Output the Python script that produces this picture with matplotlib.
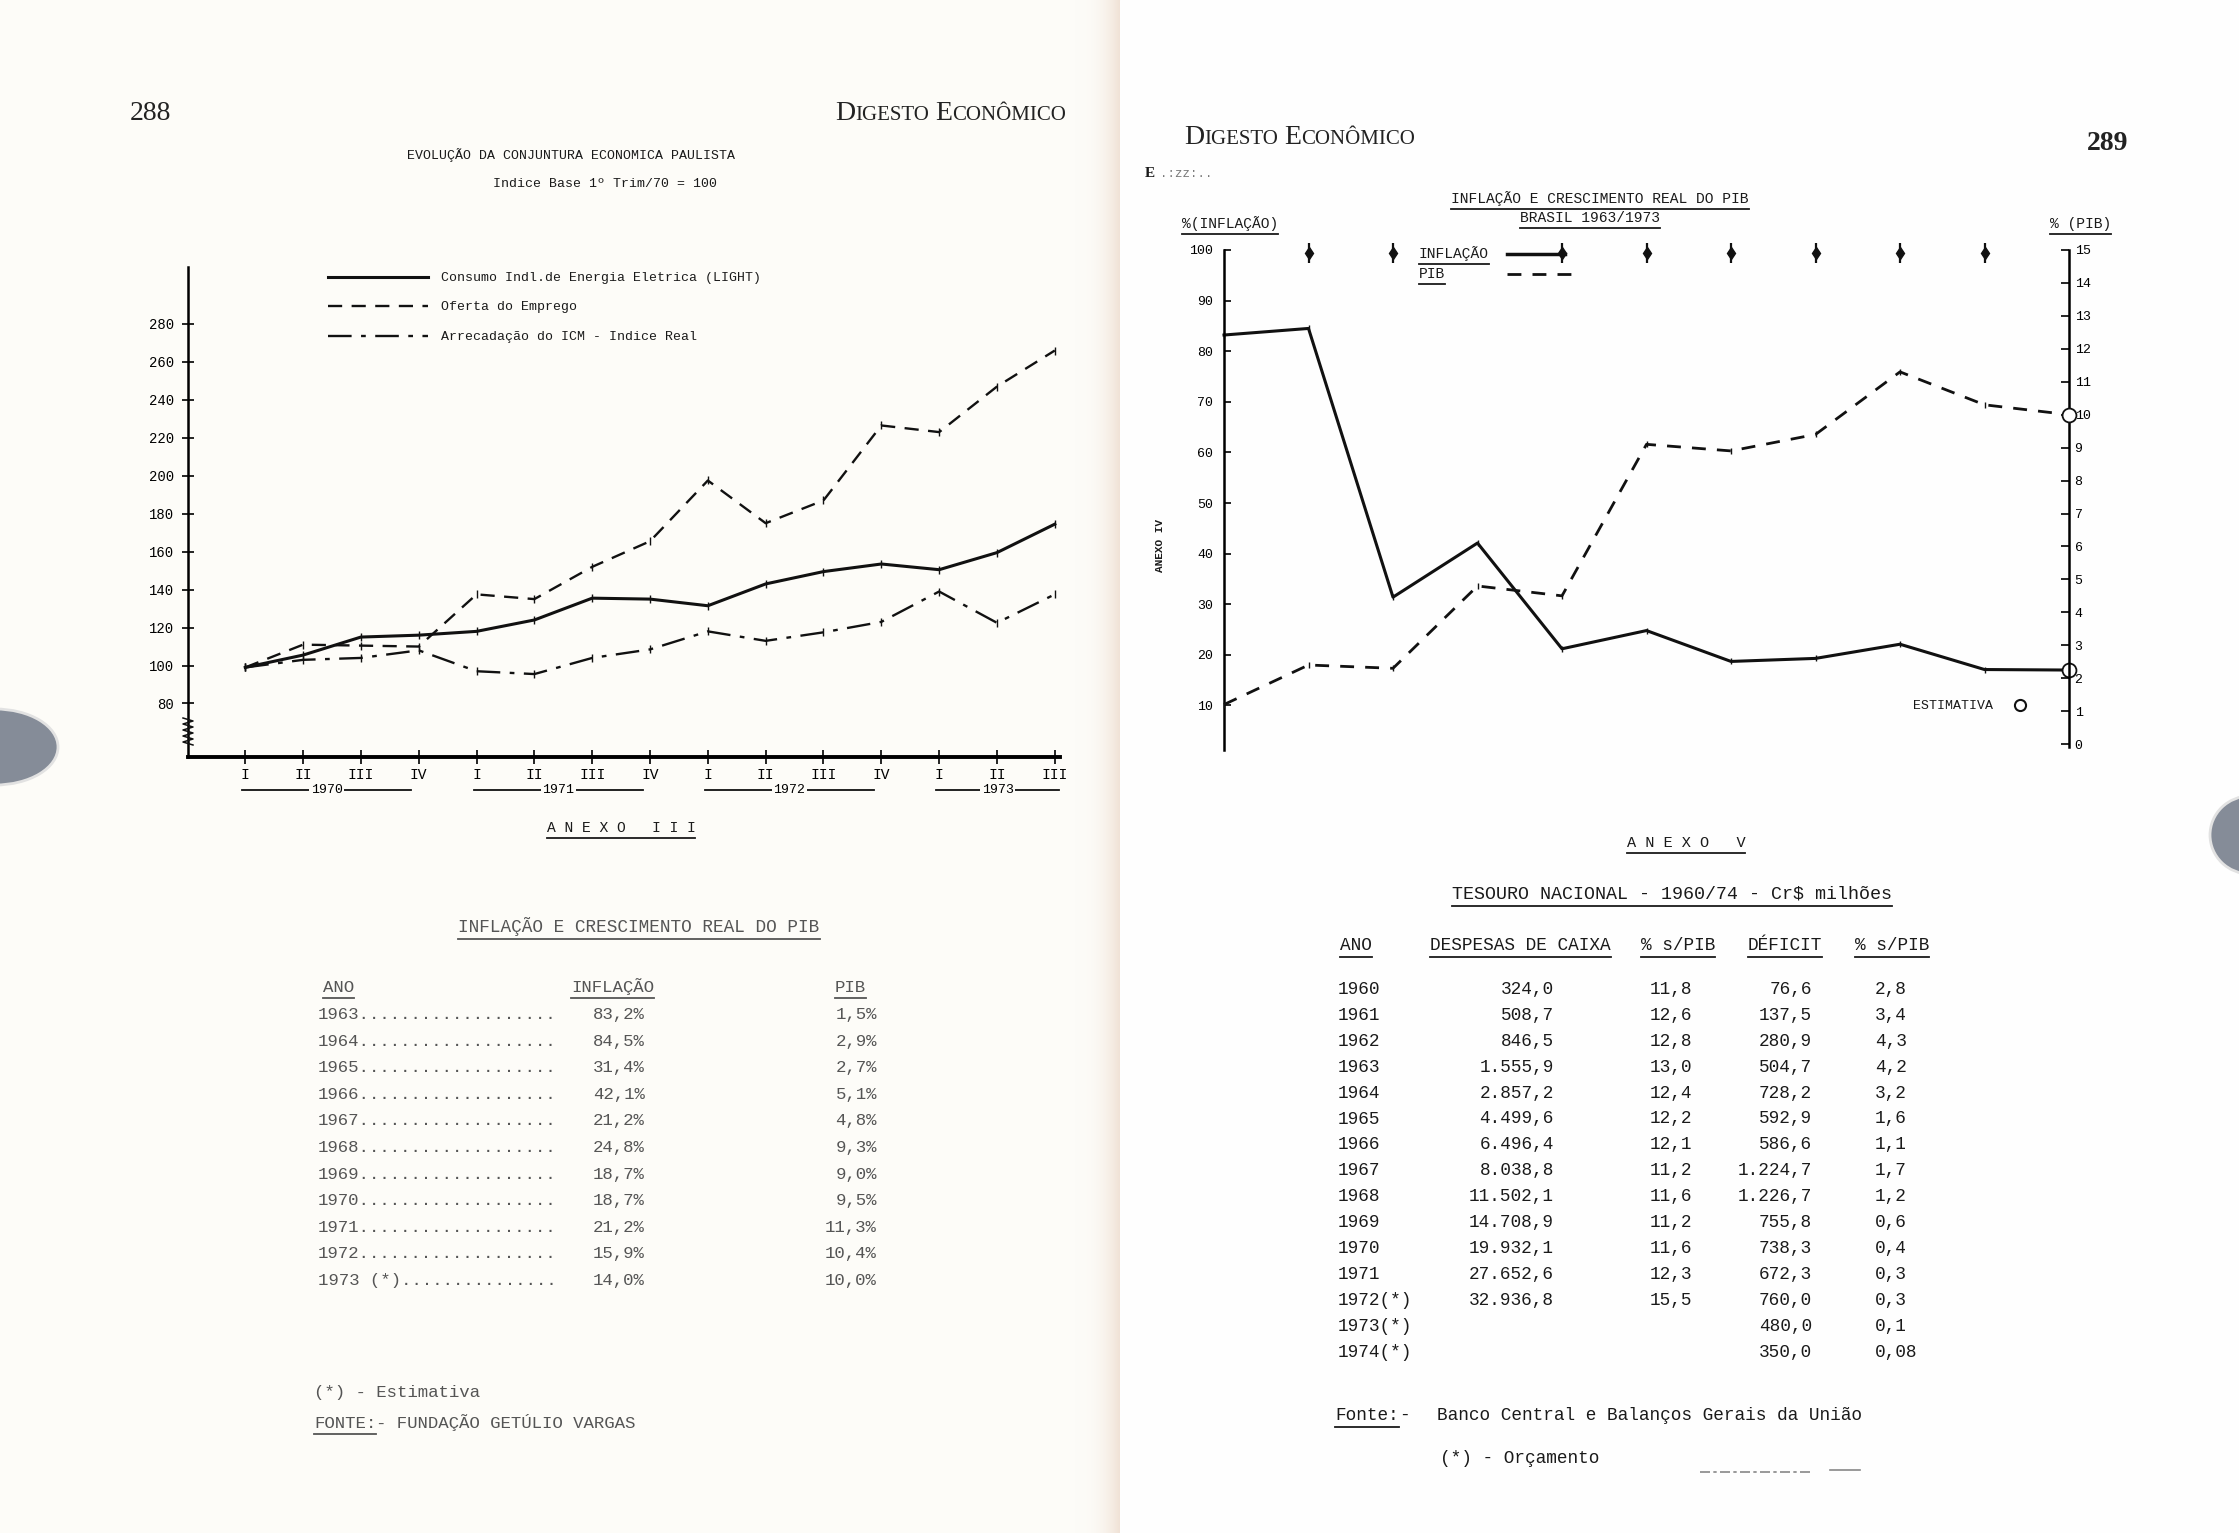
import numpy as np
import matplotlib
matplotlib.use("Agg")
import matplotlib.pyplot as plt
from matplotlib.lines import Line2D
from matplotlib.patches import Ellipse, Rectangle

W, H = 2239, 1533
MONO = "Liberation Mono"
SERIF = "Liberation Serif"

# --- left chart: quarterly index, base 1970 I = 100
quarters = ["I", "II", "III", "IV"] * 3 + ["I", "II", "III"]
years_q = ["1970", "1971", "1972", "1973"]
consumo = [99, 105.5, 115, 116, 118, 124, 135.5, 135, 131.5, 143, 149.5, 153.5, 150.5, 159.5, 174.5]
oferta = [99, 111, 110.5, 110, 137.5, 135, 152, 165.5, 197.5, 175, 187, 226.5, 223, 247, 266]
icm = [99, 103, 104, 108, 97, 95.5, 104, 108.5, 118, 113, 117.5, 123, 139, 122.5, 137.5]

# --- right chart: inflation (left axis) and GDP growth (right axis)
anos = [1963, 1964, 1965, 1966, 1967, 1968, 1969, 1970, 1971, 1972, 1973]
inflacao = [83.2, 84.5, 31.4, 42.1, 21.2, 24.8, 18.7, 19.3, 22.1, 17.1, 17.0]
pib = [1.2, 2.4, 2.3, 4.8, 4.5, 9.1, 8.9, 9.4, 11.3, 10.3, 10.0]
top_marks = [1964, 1965, 1967, 1968, 1969, 1970, 1971, 1972]

# --- table, annex III
t3_anos = ["1963", "1964", "1965", "1966", "1967", "1968", "1969", "1970", "1971", "1972", "1973 (*)"]
t3_infl = ["83,2%", "84,5%", "31,4%", "42,1%", "21,2%", "24,8%", "18,7%", "18,7%", "21,2%", "15,9%", "14,0%"]
t3_pib = ["1,5%", "2,9%", "2,7%", "5,1%", "4,8%", "9,3%", "9,0%", "9,5%", "11,3%", "10,4%", "10,0%"]

# --- table, annex V
t5_anos = ["1960", "1961", "1962", "1963", "1964", "1965", "1966", "1967", "1968", "1969",
           "1970", "1971", "1972(*)", "1973(*)", "1974(*)"]
t5_desp = ["324,0", "508,7", "846,5", "1.555,9", "2.857,2", "4.499,6", "6.496,4", "8.038,8",
           "11.502,1", "14.708,9", "19.932,1", "27.652,6", "32.936,8", "", ""]
t5_pct1 = ["11,8", "12,6", "12,8", "13,0", "12,4", "12,2", "12,1", "11,2", "11,6", "11,2",
           "11,6", "12,3", "15,5", "", ""]
t5_def = ["76,6", "137,5", "280,9", "504,7", "728,2", "592,9", "586,6", "1.224,7", "1.226,7",
          "755,8", "738,3", "672,3", "760,0", "480,0", "350,0"]
t5_pct2 = ["2,8", "3,4", "4,3", "4,2", "3,2", "1,6", "1,1", "1,7", "1,2", "0,6", "0,4",
           "0,3", "0,3", "0,1", "0,08"]

LEFT_BG = "#fdfcf8"
RIGHT_BG = "#fefefe"

fig = plt.figure(figsize=(W / 100, H / 100), dpi=100)
fig.patch.set_facecolor("white")
renderer = fig.canvas.get_renderer()
underlined = []


def txt(x, y, s, size=11, family=MONO, ha="left", va="baseline", under=False, color="#1a1a1a", **kw):
    t = fig.text(x / W, 1 - y / H, s, fontsize=size, family=family, ha=ha, va=va, color=color, **kw)
    if under:
        underlined.append(t)
    return t


def hline(x0, x1, y, **kw):
    fig.add_artist(Line2D([x0 / W, x1 / W], [1 - y / H, 1 - y / H], **kw))


def smallcaps(x, y, parts):
    for s, sz in parts:
        t = txt(x, y, s, size=sz, family=SERIF, color="#222")
        x = t.get_window_extent(renderer).x1 + (6 if s.startswith("I") else 0)


# paper: two pages, soft shadow at the gutter, scanner blobs at the edges
fig.add_artist(Rectangle((0, 0), 1120 / W, 1, color=LEFT_BG, zorder=0))
fig.add_artist(Rectangle((1120 / W, 0), 1 - 1120 / W, 1, color=RIGHT_BG, zorder=0))
g = np.linspace(0, 1, 64) ** 2.5
shade = np.array([253, 252, 248]) * (1 - g[:, None]) + np.array([240, 226, 214]) * g[:, None]
gax = fig.add_axes([1075 / W, 0, 45 / W, 1], zorder=0)
gax.imshow(shade[None, :, :] / 255, aspect="auto")
gax.axis("off")
fig.add_artist(Ellipse((-5 / W, 1 - 747 / H), 126 / W, 76 / H, facecolor="#858c98",
                       edgecolor="#e2e2e2", lw=2, zorder=1))
fig.add_artist(Ellipse((2250 / W, 1 - 835 / H), 80 / W, 78 / H, facecolor="#858c98",
                       edgecolor="#e2e2e2", lw=2, zorder=1))

# ---------------- left page ----------------
txt(130, 120, "288", size=20, family=SERIF, color="#222")
smallcaps(835, 120, [("D", 20), ("IGESTO", 15), ("E", 20), ("CONÔMICO", 15)])
txt(571, 159, "EVOLUÇÃO DA CONJUNTURA ECONOMICA PAULISTA", size=9.5, ha="center")
txt(605, 187, "Indice Base 1º Trim/70 = 100", size=9.5, ha="center")

ax1 = fig.add_axes([188 / W, 1 - 757 / H, (1060 - 188) / W, (757 - 267) / H])
ax1.set_facecolor("none")
ax1.set_xlim(-0.99, 14.09)
ax1.set_ylim(51.8, 310)
xs = list(range(len(quarters)))
ax1.plot(xs, consumo, color="#111", lw=2.2, marker="|", ms=6, clip_on=False)
ax1.plot(xs, oferta, color="#111", lw=1.7, dashes=(6, 4), marker="|", ms=6, clip_on=False)
ax1.plot(xs, icm, color="#111", lw=1.7, dashes=(10, 4, 2, 4), marker="|", ms=6, clip_on=False)
for s in ["top", "right"]:
    ax1.spines[s].set_visible(False)
ax1.spines["left"].set_linewidth(1.8)
ax1.spines["bottom"].set_linewidth(2.8)
ax1.set_yticks(range(80, 281, 20))
ax1.set_yticklabels([str(v) for v in range(80, 281, 20)], family=MONO, fontsize=10)
ax1.tick_params(axis="y", direction="inout", length=8, width=1.2, pad=6)
ax1.set_xticks(xs)
ax1.set_xticklabels(quarters, family=MONO, fontsize=10.5)
ax1.tick_params(axis="x", direction="inout", length=10, width=1.2, pad=3)

# axis break mark on the y axis
zz_y = np.arange(718, 746, 3)
zz_x = np.where(np.arange(len(zz_y)) % 2 == 0, 183, 193)
fig.add_artist(Line2D(zz_x / W, 1 - zz_y / H, color="#111", lw=1.1))

# year groups under the quarter labels
xt = ax1.get_xaxis_transform()
for k, yr in enumerate(years_q):
    x0 = 4 * k - 0.05
    x1 = min(4 * k + 2.87, 14.07)
    ax1.plot([x0, x1], [-0.067, -0.067], color="#111", lw=1.3, transform=xt, clip_on=False)
    ax1.text((x0 + x1) / 2, -0.067, yr, transform=xt, ha="center", va="center", family=MONO,
             fontsize=9.5, bbox=dict(facecolor=LEFT_BG, edgecolor="none", pad=1))

# legend
hline(328, 428, 277, color="#111", lw=2.2)
hline(328, 428, 306, color="#111", lw=1.7, dashes=(6, 4))
hline(328, 428, 336, color="#111", lw=1.7, dashes=(10, 4, 2, 4))
txt(441, 281, "Consumo Indl.de Energia Eletrica (LIGHT)", size=9.5)
txt(441, 310, "Oferta do Emprego", size=9.5)
txt(441, 340, "Arrecadação do ICM - Indice Real", size=9.5)

# annex III table
txt(621, 832, "A N E X O   I I I", size=10.5, ha="center", under=True)
txt(639, 932, "INFLAÇÃO E CRESCIMENTO REAL DO PIB", size=12.8, ha="center", color="#555", under=True)
txt(323, 992, "ANO", size=12.5, color="#555", under=True)
txt(571, 992, "INFLAÇÃO", size=12.5, color="#555", under=True)
txt(835, 992, "PIB", size=12.5, color="#555", under=True)
for i, yr in enumerate(t3_anos):
    y = 1019 + i * 26.6
    txt(318, y, yr + "." * (23 - len(yr)), size=12.5, color="#555")
    txt(645, y, t3_infl[i], size=12.5, ha="right", color="#555")
    txt(877, y, t3_pib[i], size=12.5, ha="right", color="#555")
txt(314, 1397, "(*) - Estimativa", size=12.5, color="#555")
t = txt(314, 1428, "FONTE:", size=12.5, color="#555", under=True)
txt(t.get_window_extent(renderer).x1, 1428, "- FUNDAÇÃO GETÚLIO VARGAS", size=12.5, color="#555")

# ---------------- right page ----------------
smallcaps(1184, 144, [("D", 20), ("IGESTO", 15), ("E", 20), ("CONÔMICO", 15)])
txt(2128, 150, "289", size=20, family=SERIF, ha="right", weight="bold", color="#222")
txt(1145, 177, "E", size=11, family=SERIF, weight="bold")
txt(1160, 177, ".:zz:..", size=9, color="#777")

txt(1600, 203, "INFLAÇÃO E CRESCIMENTO REAL DO PIB", size=10.5, ha="center", under=True)
txt(1590, 222, "BRASIL 1963/1973", size=10.5, ha="center", under=True)
txt(1182, 228, "%(INFLAÇÃO)", size=10.5, under=True)
txt(2050, 228, "% (PIB)", size=10.5, under=True)

ax2 = fig.add_axes([1224 / W, 1 - 750 / H, (2069 - 1224) / W, (750 - 250) / H])
ax2.set_facecolor("none")
ax2.set_xlim(1963, 1973)
ax2.set_ylim(1.2, 100)
ax3 = ax2.twinx()
ax3.set_ylim(-0.18, 15)
ax2.plot(anos, inflacao, color="#111", lw=2.2, marker="|", ms=5, clip_on=False)
ax3.plot(anos, pib, color="#111", lw=2.0, dashes=(5, 4), marker="|", ms=5, clip_on=False)
ax2.plot([anos[-1]], [inflacao[-1]], "o", ms=10, mfc="white", mec="#111", mew=1.3, clip_on=False, zorder=5)
ax3.plot([anos[-1]], [pib[-1]], "o", ms=10, mfc="white", mec="#111", mew=1.3, clip_on=False, zorder=5)
ax2.plot(top_marks, [99.5] * len(top_marks), ls="none", marker="|", ms=14, mew=1.6, color="#111", clip_on=False)
ax2.plot(top_marks, [99.5] * len(top_marks), ls="none", marker="d", ms=6, color="#111", clip_on=False)

for a in (ax2, ax3):
    a.spines["top"].set_visible(False)
    a.spines["bottom"].set_visible(False)
    a.set_xticks([])
ax3.spines["left"].set_visible(False)
ax2.spines["right"].set_visible(False)
ax2.spines["left"].set_linewidth(1.8)
ax3.spines["right"].set_linewidth(1.8)
ax3.spines["right"].set_bounds(-0.1, 15)
ax2.set_yticks(range(10, 101, 10))
ax2.set_yticklabels([str(v) for v in range(10, 101, 10)], family=MONO, fontsize=9.5)
ax2.tick_params(axis="y", direction="in", length=5, width=1.2, pad=8)
ax3.set_yticks(range(0, 16))
ax3.set_yticklabels([str(v) for v in range(0, 16)], family=MONO, fontsize=9.5)
ax3.tick_params(axis="y", direction="in", length=6, width=1.2, pad=4)

# legend of the right chart
txt(1419, 258, "INFLAÇÃO", size=10.5, under=True)
txt(1419, 278, "PIB", size=10.5, under=True)
hline(1507, 1565, 254, color="#111", lw=2.5)
hline(1507, 1572, 274, color="#111", lw=2.0, dashes=(5, 4))

txt(1913, 709, "ESTIMATIVA", size=9.5)
fig.add_artist(Line2D([2020 / W], [1 - 705 / H], marker="o", ms=8, mfc="none", mec="#111", mew=1.5, ls="none"))
txt(1160, 545, "ANEXO IV", size=8, ha="center", va="center", rotation=90, weight="bold")

# annex V table
txt(1686, 847, "A N E X O   V", size=11, ha="center", under=True)
txt(1452, 899, "TESOURO NACIONAL - 1960/74 - Cr$ milhões", size=13.2, under=True)
txt(1340, 950, "ANO", size=12.8, under=True)
txt(1430, 950, "DESPESAS DE CAIXA", size=12.8, under=True)
txt(1641, 950, "% s/PIB", size=12.8, under=True)
txt(1748, 950, "DÉFICIT", size=12.8, under=True)
txt(1855, 950, "% s/PIB", size=12.8, under=True)
for i, yr in enumerate(t5_anos):
    y = 994 + i * 25.9
    txt(1338, y, yr, size=12.8)
    txt(1554, y, t5_desp[i], size=12.8, ha="right")
    txt(1692, y, t5_pct1[i], size=12.8, ha="right")
    txt(1812, y, t5_def[i], size=12.8, ha="right")
    txt(1875, y, t5_pct2[i], size=12.8)
t = txt(1335, 1420, "Fonte:", size=12.8, under=True)
txt(t.get_window_extent(renderer).x1, 1420, "-", size=12.8)
txt(1437, 1420, "Banco Central e Balanços Gerais da União", size=12.8)
txt(1440, 1463, "(*) - Orçamento", size=12.8)
hline(1700, 1810, 1472, color="#888", lw=1.2, dashes=(6, 2, 2, 2))
hline(1830, 1860, 1470, color="#888", lw=1.2)

# underline the marked texts
for t in underlined:
    bb = t.get_window_extent(renderer)
    hline(bb.x0, bb.x1, H - bb.y0 + 3, color=t.get_color(), lw=1.3)

fig.savefig("out.png", dpi=100)
